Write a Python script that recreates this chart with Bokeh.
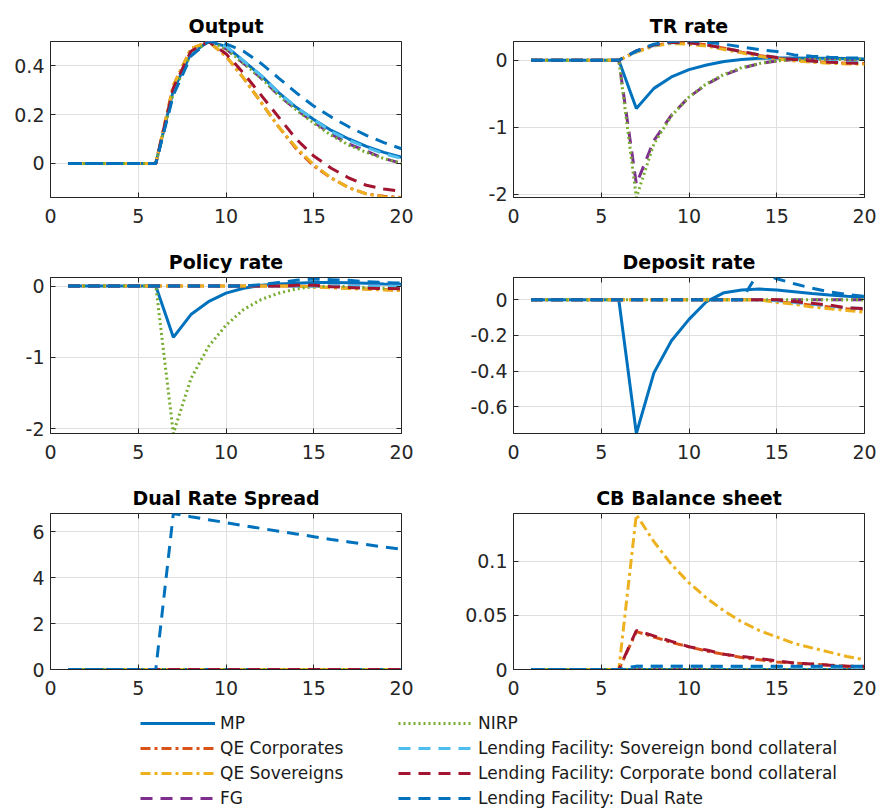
from bokeh.plotting import figure
from bokeh.models import Range1d, FixedTicker, CustomJSTickFormatter, LinearAxis, Legend, LegendItem
from bokeh.layouts import column, row
from bokeh.embed import file_html
from bokeh.resources import INLINE

# ---------------- data ----------------
t = [1, 2, 3, 4, 5, 6, 7, 8, 9, 10, 11, 12, 13, 14, 15, 16, 17, 18, 19, 20]

series_names = ["MP", "QE Corporates", "QE Sovereigns", "FG", "NIRP",
                "Lending Facility: Sovereign bond collateral",
                "Lending Facility: Corporate bond collateral",
                "Lending Facility: Dual Rate"]

x_ticks = [0, 5, 10, 15, 20]

# Output
out_mp   = [0, 0, 0, 0, 0, 0, 0.30, 0.45, 0.50, 0.48, 0.42, 0.36, 0.29, 0.23, 0.18, 0.135, 0.10, 0.07, 0.045, 0.025]
out_qec  = [0, 0, 0, 0, 0, 0, 0.32, 0.47, 0.50, 0.44, 0.35, 0.25, 0.15, 0.06, -0.01, -0.06, -0.10, -0.125, -0.135, -0.14]
out_qes  = [0, 0, 0, 0, 0, 0, 0.32, 0.47, 0.50, 0.44, 0.35, 0.25, 0.15, 0.065, -0.005, -0.06, -0.10, -0.125, -0.138, -0.142]
out_fg   = [0, 0, 0, 0, 0, 0, 0.29, 0.45, 0.50, 0.47, 0.41, 0.35, 0.28, 0.22, 0.17, 0.12, 0.08, 0.05, 0.02, 0.0]
out_nirp = [0, 0, 0, 0, 0, 0, 0.29, 0.45, 0.50, 0.47, 0.41, 0.35, 0.28, 0.22, 0.165, 0.115, 0.075, 0.045, 0.02, 0.0]
out_lfs  = [0, 0, 0, 0, 0, 0, 0.30, 0.45, 0.50, 0.48, 0.42, 0.36, 0.29, 0.23, 0.18, 0.13, 0.095, 0.065, 0.04, 0.02]
out_lfc  = [0, 0, 0, 0, 0, 0, 0.31, 0.46, 0.50, 0.45, 0.37, 0.28, 0.19, 0.10, 0.03, -0.02, -0.06, -0.09, -0.105, -0.115]
out_lfd  = [0, 0, 0, 0, 0, 0, 0.28, 0.44, 0.50, 0.49, 0.46, 0.41, 0.35, 0.29, 0.235, 0.19, 0.15, 0.115, 0.085, 0.06]

# TR rate
tr_mp   = [0, 0, 0, 0, 0, 0, -0.72, -0.42, -0.25, -0.14, -0.07, -0.02, 0.01, 0.03, 0.035, 0.035, 0.03, 0.03, 0.025, 0.02]
tr_qec  = [0, 0, 0, 0, 0, 0, 0.13, 0.22, 0.26, 0.26, 0.23, 0.18, 0.12, 0.07, 0.03, 0.0, -0.02, -0.035, -0.045, -0.05]
tr_qes  = [0, 0, 0, 0, 0, 0, 0.12, 0.21, 0.25, 0.24, 0.21, 0.16, 0.11, 0.06, 0.02, -0.01, -0.03, -0.045, -0.055, -0.06]
tr_fg   = [0, 0, 0, 0, 0, 0, -1.85, -1.20, -0.82, -0.55, -0.36, -0.22, -0.12, -0.05, -0.01, 0.01, 0.015, 0.015, 0.01, 0.01]
tr_nirp = [0, 0, 0, 0, 0, 0, -2.05, -1.25, -0.83, -0.55, -0.35, -0.21, -0.11, -0.05, -0.01, 0.01, 0.015, 0.015, 0.01, 0.01]
tr_lfs  = [0, 0, 0, 0, 0, 0, 0.13, 0.22, 0.26, 0.26, 0.23, 0.18, 0.13, 0.08, 0.04, 0.01, -0.01, -0.02, -0.03, -0.035]
tr_lfc  = [0, 0, 0, 0, 0, 0, 0.14, 0.23, 0.27, 0.26, 0.23, 0.18, 0.13, 0.08, 0.04, 0.01, -0.01, -0.03, -0.04, -0.045]
tr_lfd  = [0, 0, 0, 0, 0, 0, 0.14, 0.24, 0.28, 0.29, 0.27, 0.24, 0.20, 0.16, 0.13, 0.08, 0.06, 0.045, 0.035, 0.03]

# Policy rate
pr_mp   = [0, 0, 0, 0, 0, 0, -0.72, -0.40, -0.22, -0.10, -0.03, 0.01, 0.03, 0.04, 0.05, 0.05, 0.045, 0.04, 0.03, 0.025]
pr_qec  = [0, 0, 0, 0, 0, 0, 0, 0, 0, 0, 0, 0, 0, 0.0, -0.01, -0.02, -0.03, -0.04, -0.05, -0.06]
pr_qes  = [0, 0, 0, 0, 0, 0, 0, 0, 0, 0, 0, 0, 0, 0.0, -0.015, -0.025, -0.035, -0.045, -0.055, -0.065]
pr_fg   = [0, 0, 0, 0, 0, 0, 0, 0, 0, 0, 0, 0, 0, 0, 0, 0, 0, 0, 0, 0]
pr_nirp = [0, 0, 0, 0, 0, 0, -2.07, -1.30, -0.85, -0.55, -0.33, -0.19, -0.10, -0.04, -0.01, 0.0, -0.01, -0.02, -0.03, -0.04]
pr_lfs  = [0, 0, 0, 0, 0, 0, 0, 0, 0, 0, 0, 0, 0, 0, 0, 0, 0, 0, 0, 0]
pr_lfc  = [0, 0, 0, 0, 0, 0, 0, 0, 0, 0, 0, 0, 0, 0.01, 0.01, -0.01, -0.02, -0.03, -0.035, -0.04]
pr_lfd  = [0, 0, 0, 0, 0, 0, 0, 0, 0, 0, 0, 0.02, 0.05, 0.08, 0.10, 0.09, 0.08, 0.06, 0.05, 0.04]

# Deposit rate
dr_mp   = [0, 0, 0, 0, 0, 0, -0.75, -0.41, -0.23, -0.11, -0.01, 0.04, 0.055, 0.06, 0.055, 0.045, 0.035, 0.027, 0.02, 0.015]
dr_qec  = [0, 0, 0, 0, 0, 0, 0, 0, 0, 0, 0, 0, 0, 0, -0.01, -0.02, -0.03, -0.04, -0.05, -0.055]
dr_qes  = [0, 0, 0, 0, 0, 0, 0, 0, 0, 0, 0, 0, 0, 0, -0.015, -0.025, -0.04, -0.05, -0.06, -0.07]
dr_fg   = [0, 0, 0, 0, 0, 0, 0, 0, 0, 0, 0, 0, 0, 0, 0, 0, 0, 0, 0, 0]
dr_nirp = [0, 0, 0, 0, 0, 0, 0, 0, 0, 0, 0, 0, 0, 0, 0, 0, 0, 0, 0, 0]
dr_lfs  = [0, 0, 0, 0, 0, 0, 0, 0, 0, 0, 0, 0, 0, 0, -0.005, -0.015, -0.025, -0.035, -0.045, -0.05]
dr_lfc  = [0, 0, 0, 0, 0, 0, 0, 0, 0, 0, 0, 0, 0, 0, 0.0, -0.01, -0.02, -0.03, -0.045, -0.05]
dr_lfd  = [0, 0, 0, 0, 0, 0, 0, 0, 0, 0, 0, 0, 0, 0.16, 0.118, 0.09, 0.065, 0.045, 0.03, 0.02]

# Dual rate spread
ds_mp   = [0, 0, 0, 0, 0, 0, 0, 0, 0, 0, 0, 0, 0, 0, 0, 0, 0, 0, 0, 0]
ds_qec  = [0, 0, 0, 0, 0, 0, 0, 0, 0, 0, 0, 0, 0, 0, 0, 0, 0, 0, 0, 0]
ds_qes  = [0, 0, 0, 0, 0, 0, 0, 0, 0, 0, 0, 0, 0, 0, 0, 0, 0, 0, 0, 0]
ds_fg   = [0, 0, 0, 0, 0, 0, 0, 0, 0, 0, 0, 0, 0, 0, 0, 0, 0, 0, 0, 0]
ds_nirp = [0, 0, 0, 0, 0, 0, 0, 0, 0, 0, 0, 0, 0, 0, 0, 0, 0, 0, 0, 0]
ds_lfs  = [0, 0, 0, 0, 0, 0, 0, 0, 0, 0, 0, 0, 0, 0, 0, 0, 0, 0, 0, 0]
ds_lfc  = [0, 0, 0, 0, 0, 0, 0, 0, 0, 0, 0, 0, 0, 0, 0, 0, 0, 0, 0, 0]
ds_lfd  = [0, 0, 0, 0, 0, 0, 6.80, 6.66, 6.53, 6.40, 6.27, 6.15, 6.03, 5.91, 5.79, 5.67, 5.56, 5.45, 5.34, 5.24]

# CB balance sheet
cb_mp   = [0, 0, 0, 0, 0, 0, 0, 0, 0, 0, 0, 0, 0, 0, 0, 0, 0, 0, 0, 0]
cb_qec  = [0, 0, 0, 0, 0, 0, 0.035, 0.030, 0.025, 0.021, 0.017, 0.014, 0.011, 0.009, 0.007, 0.006, 0.005, 0.004, 0.003, 0.002]
cb_qes  = [0, 0, 0, 0, 0, 0, 0.143, 0.118, 0.097, 0.080, 0.066, 0.054, 0.044, 0.036, 0.030, 0.024, 0.020, 0.016, 0.012, 0.009]
cb_fg   = [0, 0, 0, 0, 0, 0, 0, 0, 0, 0, 0, 0, 0, 0, 0, 0, 0, 0, 0, 0]
cb_nirp = [0, 0, 0, 0, 0, 0, 0, 0, 0, 0, 0, 0, 0, 0, 0, 0, 0, 0, 0, 0]
cb_lfs  = [0, 0, 0, 0, 0, 0, 0.003, 0.003, 0.003, 0.003, 0.003, 0.002, 0.002, 0.002, 0.002, 0.002, 0.002, 0.002, 0.002, 0.002]
cb_lfc  = [0, 0, 0, 0, 0, 0, 0.036, 0.031, 0.026, 0.021, 0.018, 0.014, 0.012, 0.010, 0.008, 0.006, 0.005, 0.004, 0.003, 0.003]
cb_lfd  = [0, 0, 0, 0, 0, 0, 0.003, 0.003, 0.003, 0.003, 0.003, 0.003, 0.003, 0.003, 0.003, 0.003, 0.003, 0.003, 0.003, 0.003]

panels = [
    ("Output", [out_mp, out_qec, out_qes, out_fg, out_nirp, out_lfs, out_lfc, out_lfd], (-0.14, 0.5), [0, 0.2, 0.4]),
    ("TR rate", [tr_mp, tr_qec, tr_qes, tr_fg, tr_nirp, tr_lfs, tr_lfc, tr_lfd], (-2.05, 0.28), [-2, -1, 0]),
    ("Policy rate", [pr_mp, pr_qec, pr_qes, pr_fg, pr_nirp, pr_lfs, pr_lfc, pr_lfd], (-2.07, 0.12), [-2, -1, 0]),
    ("Deposit rate", [dr_mp, dr_qec, dr_qes, dr_fg, dr_nirp, dr_lfs, dr_lfc, dr_lfd], (-0.75, 0.125), [-0.6, -0.4, -0.2, 0]),
    ("Dual Rate Spread", [ds_mp, ds_qec, ds_qes, ds_fg, ds_nirp, ds_lfs, ds_lfc, ds_lfd], (0, 6.8), [0, 2, 4, 6]),
    ("CB Balance sheet", [cb_mp, cb_qec, cb_qes, cb_fg, cb_nirp, cb_lfs, cb_lfc, cb_lfd], (0, 0.144), [0, 0.05, 0.1]),
]

# ---------------- styles ----------------
colors = ["#0072BD", "#D95319", "#EDB120", "#7E2F8E", "#77AC30", "#4DBEEE", "#A2142F", "#0072BD"]
dashes = ["solid", "10 4 3 4", "10 4 3 4", "12 8", "2 3", "12 8", "12 8", "12 8"]
LW = 3
FONT = "DejaVu Sans"
AX = "#262626"
GRID = "#dfdfdf"


def make_panel(title, ys, yr, yticks, left):
    p = figure(frame_width=351, frame_height=156,
               x_range=Range1d(0, 20), y_range=Range1d(*yr),
               output_backend="svg", toolbar_location=None,
               min_border_left=50 if left else 73,
               min_border_right=39 if left else 15,
               min_border_top=41, min_border_bottom=39,
               title=title)
    p.title.text_font = FONT
    p.title.text_font_size = "19px"
    p.title.text_font_style = "bold"
    p.title.align = "center"
    p.title.text_color = "#000000"
    p.background_fill_color = "white"
    p.border_fill_color = "white"
    p.outline_line_color = AX
    p.outline_line_width = 1
    p.outline_line_alpha = 1

    p.xaxis.ticker = FixedTicker(ticks=x_ticks)
    p.yaxis.ticker = FixedTicker(ticks=yticks)
    p.yaxis.formatter = CustomJSTickFormatter(code="return String(tick)")
    for ax in (p.xaxis[0], p.yaxis[0]):
        ax.axis_line_color = AX
        ax.major_tick_line_color = AX
        ax.major_tick_in = 5
        ax.major_tick_out = 0
        ax.minor_tick_line_color = None
        ax.major_label_text_font = FONT
        ax.major_label_text_font_size = "19px"
        ax.major_label_text_color = AX
    p.xaxis.major_label_standoff = 11
    p.yaxis.major_label_standoff = 6

    # mirrored ticks (top/right) like the box axes of the original
    top = LinearAxis(ticker=FixedTicker(ticks=x_ticks),
                     formatter=CustomJSTickFormatter(code="return ''"),
                     major_tick_in=5, major_tick_out=0, minor_tick_line_color=None,
                     axis_line_color=None, major_tick_line_color=AX, major_label_standoff=0)
    rgt = LinearAxis(ticker=FixedTicker(ticks=yticks),
                     formatter=CustomJSTickFormatter(code="return ''"),
                     major_tick_in=5, major_tick_out=0, minor_tick_line_color=None,
                     axis_line_color=None, major_tick_line_color=AX, major_label_standoff=0)
    p.add_layout(top, "above")
    p.add_layout(rgt, "right")

    p.xgrid.ticker = FixedTicker(ticks=x_ticks)
    p.ygrid.ticker = FixedTicker(ticks=yticks)
    p.xgrid.grid_line_color = GRID
    p.ygrid.grid_line_color = GRID

    for i, y in enumerate(ys):
        p.line(t, y, line_color=colors[i], line_width=LW, line_dash=dashes[i])
    return p


figs = []
for k, (title, ys, yr, yticks) in enumerate(panels):
    figs.append(make_panel(title, ys, yr, yticks, left=(k % 2 == 0)))

# ---------------- legend ----------------
lf = figure(width=879, height=100, x_range=Range1d(0, 1), y_range=Range1d(0, 1),
            output_backend="svg", toolbar_location=None, min_border=0,
            x_axis_location=None, y_axis_location=None)
lf.outline_line_color = None
lf.grid.visible = False
lf.background_fill_color = "white"
lf.border_fill_color = "white"

rends = []
for i in range(len(series_names)):
    rends.append(lf.line([-5, -4], [-5, -5], line_color=colors[i], line_width=LW, line_dash=dashes[i]))


def make_legend(idx, loc):
    leg = Legend(items=[LegendItem(label=series_names[i], renderers=[rends[i]]) for i in idx],
                 location=loc, orientation="vertical")
    leg.glyph_width = 75
    leg.glyph_height = 20
    leg.label_height = 20
    leg.spacing = 5
    leg.label_standoff = 5
    leg.padding = 0
    leg.margin = 0
    leg.border_line_color = None
    leg.background_fill_alpha = 0
    leg.label_text_font = FONT
    leg.label_text_font_size = "17px"
    leg.label_text_color = "#1a1a1a"
    return leg


lf.add_layout(make_legend([0, 1, 2, 3], (140, 0)))
lf.add_layout(make_legend([4, 5, 6, 7], (398, 0)))

layout = column(row(figs[0], figs[1]), row(figs[2], figs[3]), row(figs[4], figs[5]), lf)

open("out.html", "w").write(file_html(layout, INLINE))
